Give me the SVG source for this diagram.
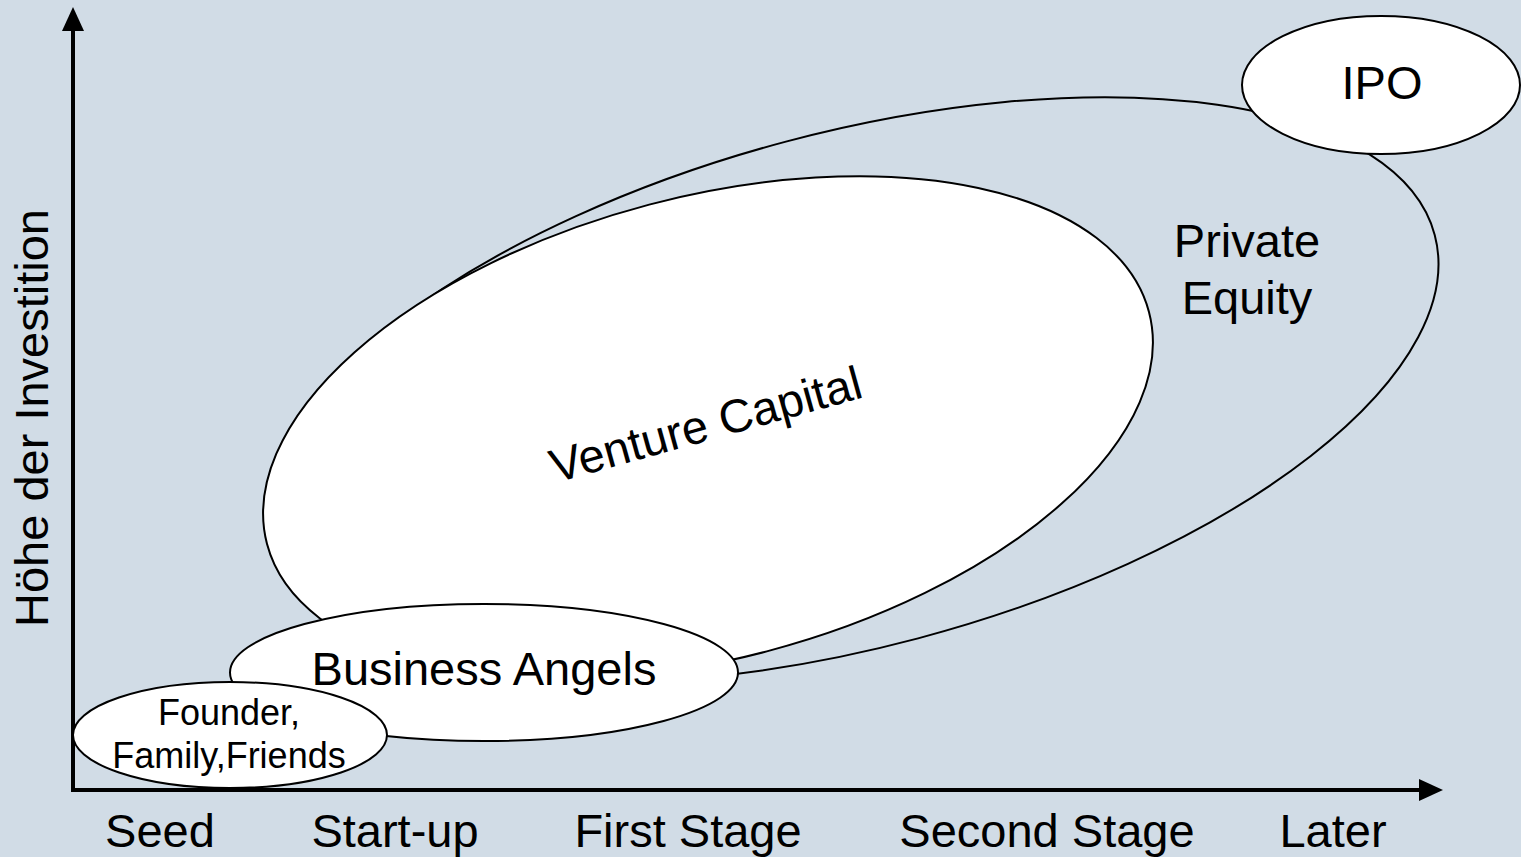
<svg xmlns="http://www.w3.org/2000/svg" width="1521" height="857" viewBox="0 0 1521 857">
<style>
.bg{fill:#D1DCE6}
.el{stroke:#000;stroke-width:2}
.w{fill:#fff}
.n{fill:none}
.t{font-family:"Liberation Sans",Arial,sans-serif;font-size:47px;fill:#000}
.s{font-size:36px}
.ax{stroke:#000;stroke-width:4;fill:none}
</style>
<defs>
<marker id="ah" markerUnits="userSpaceOnUse" markerWidth="24" markerHeight="24" refX="23" refY="11" orient="auto" viewBox="0 0 24 22">
<path d="M0,0 L23,11 L0,22 Z" fill="#000"/>
</marker>
</defs>
<rect class="bg" x="0" y="0" width="1521" height="857"/>
<g id="connectors">
<path class="ax" d="M73,31 V790 H1420"/>
<path d="M73,7 L84,31 L62,31 Z" fill="#000"/>
<path d="M1443,790 L1419,779 L1419,801 Z" fill="#000"/>
</g>
<g id="private-equity">
<ellipse class="el n" cx="852" cy="390" rx="603" ry="257" transform="rotate(-14.9 852 390)"/>
<text class="t" x="1247" y="257" text-anchor="middle">Private</text>
<text class="t" x="1247" y="314" text-anchor="middle">Equity</text>
</g>
<g id="venture-capital">
<ellipse class="el w" cx="708" cy="428" rx="456" ry="231" transform="rotate(-14.75 708 428)"/>
<text class="t" x="710" y="440" text-anchor="middle" transform="rotate(-15.5 710 440)">Venture Capital</text>
</g>
<g id="business-angels">
<ellipse class="el w" cx="484" cy="672.5" rx="254" ry="68.5"/>
<text class="t" x="484" y="685" text-anchor="middle">Business Angels</text>
</g>
<g id="founder">
<ellipse class="el w" cx="230" cy="735" rx="157" ry="53"/>
<text class="t s" x="229" y="725" text-anchor="middle">Founder,</text>
<text class="t s" x="229" y="768" text-anchor="middle">Family,Friends</text>
</g>
<g id="ipo">
<ellipse class="el w" cx="1381" cy="85" rx="139" ry="69"/>
<text class="t" x="1382" y="99" text-anchor="middle">IPO</text>
</g>
<g id="axis-labels">
<text class="t" x="160" y="847" text-anchor="middle">Seed</text>
<text class="t" x="395" y="847" text-anchor="middle">Start-up</text>
<text class="t" x="688" y="847" text-anchor="middle">First Stage</text>
<text class="t" x="1047" y="847" text-anchor="middle">Second Stage</text>
<text class="t" x="1333" y="847" text-anchor="middle">Later</text>
<text class="t" x="0" y="0" text-anchor="middle" transform="translate(48 418) rotate(-90)">Höhe der Investition</text>
</g>
</svg>
